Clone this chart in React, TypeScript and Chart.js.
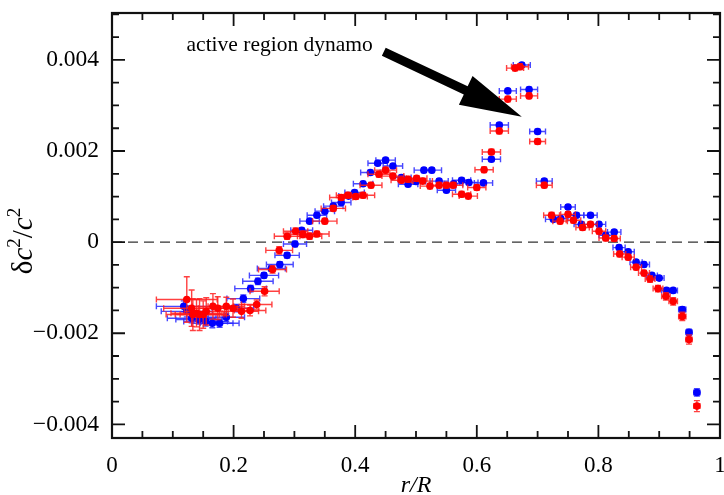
import React, { useEffect, useRef } from "react";
import { Chart, registerables } from "chart.js";

Chart.register(...registerables);

const SERIF = '"Liberation Serif", "DejaVu Serif", "Times New Roman", serif';

// ---- data: blue series ----
const blueR = [
  0.118, 0.123, 0.131, 0.143, 0.154, 0.165, 0.177, 0.188, 0.205, 0.216,
  0.228, 0.240, 0.250, 0.262, 0.276, 0.288, 0.301, 0.312, 0.325, 0.337,
  0.350, 0.364, 0.377, 0.389, 0.399, 0.413, 0.425, 0.437, 0.450, 0.462,
  0.476, 0.487, 0.500, 0.513, 0.526, 0.538, 0.550, 0.562, 0.575, 0.587,
  0.611, 0.624, 0.637, 0.651, 0.674, 0.686, 0.700, 0.711, 0.726, 0.738,
  0.750, 0.764, 0.772, 0.787, 0.801, 0.812, 0.826, 0.834, 0.849, 0.862,
  0.875, 0.888, 0.900, 0.912, 0.923, 0.938, 0.949, 0.962,
];
const blueDc = [
  -0.00141, -0.00152, -0.00167, -0.0017, -0.00174, -0.00178, -0.00178, -0.00165, -0.00145, -0.00124,
  -0.00102, -0.00086, -0.00073, -0.00058, -0.00049, -0.00029, -0.00004, 0.00026, 0.00046, 0.00059,
  0.00068, 0.00079, 0.00087, 0.00101, 0.00109, 0.00128, 0.00153, 0.00173, 0.0018, 0.00167,
  0.00142, 0.00127, 0.00133, 0.00158, 0.00158, 0.00134, 0.00114, 0.00128, 0.00136, 0.00131,
  0.0013, 0.00182, 0.00257, 0.00332, 0.00389, 0.00335, 0.00243, 0.00134, 0.0005, 0.00052,
  0.00077, 0.00059, 0.00039, 0.00059, 0.00039, 0.00015, 0.00022, -0.00012, -0.00021, -0.00044,
  -0.00049, -0.00073, -0.00079, -0.00106, -0.00106, -0.00148, -0.00198, -0.0033,
];
const blueRErr = [
  0.045, 0.042, 0.04, 0.038, 0.036, 0.034, 0.032, 0.03, 0.028, 0.027,
  0.026, 0.025, 0.024, 0.023, 0.022, 0.02, 0.019, 0.018, 0.016, 0.016,
  0.016, 0.016, 0.016, 0.016, 0.016, 0.016, 0.016, 0.016, 0.016, 0.016,
  0.016, 0.016, 0.016, 0.016, 0.016, 0.015, 0.015, 0.015, 0.015, 0.015,
  0.015, 0.015, 0.015, 0.014, 0.014, 0.014, 0.013, 0.013, 0.013, 0.012,
  0.012, 0.012, 0.012, 0.011, 0.011, 0.011, 0.011, 0.01, 0.01, 0.01,
  0.009, 0.009, 0.008, 0.008, 0.007, 0.006, 0.005, 0.005,
];
const blueDcErr = [
  0.00012, 0.00012, 0.0001, 0.0001, 0.0001, 0.0001, 0.00009, 0.00009, 0.00008, 0.00008,
  0.00007, 0.00007, 0.00006, 0.00006, 0.00006, 0.00006, 0.00006, 0.00005, 0.00005, 0.00005,
  0.00005, 0.00005, 0.00005, 0.00005, 0.00005, 0.00005, 0.00005, 0.00005, 0.00005, 0.00005,
  0.00005, 0.00005, 0.00005, 0.00005, 0.00005, 0.00005, 0.00005, 0.00005, 0.00005, 0.00005,
  0.00005, 0.00005, 0.00005, 0.00005, 0.00005, 0.00005, 0.00005, 0.00005, 0.00005, 0.00005,
  0.00005, 0.00005, 0.00005, 0.00005, 0.00005, 0.00005, 0.00005, 0.00005, 0.00005, 0.00005,
  0.00005, 0.00005, 0.00005, 0.00005, 0.00005, 0.00006, 0.00007, 0.00008,
];

// ---- data: red series ----
const redR = [
  0.123, 0.131, 0.133, 0.139, 0.144, 0.150, 0.155, 0.166, 0.174, 0.188,
  0.199, 0.213, 0.227, 0.238, 0.251, 0.264, 0.275, 0.288, 0.302, 0.314,
  0.325, 0.337, 0.350, 0.364, 0.377, 0.388, 0.401, 0.413, 0.426, 0.439,
  0.450, 0.462, 0.476, 0.487, 0.501, 0.511, 0.523, 0.538, 0.550, 0.561,
  0.575, 0.586, 0.600, 0.612, 0.624, 0.637, 0.651, 0.663, 0.671, 0.686,
  0.700, 0.711, 0.723, 0.737, 0.750, 0.759, 0.774, 0.787, 0.801, 0.812,
  0.826, 0.835, 0.849, 0.862, 0.875, 0.885, 0.898, 0.911, 0.923, 0.938,
  0.949, 0.962,
];
const redDc = [
  -0.00126, -0.00145, -0.00159, -0.00156, -0.00159, -0.00159, -0.00152, -0.00141, -0.00145, -0.00141,
  -0.00145, -0.00152, -0.0015, -0.00137, -0.00108, -0.0006, -0.00018, 0.00013, 0.00024, 0.00017,
  0.00013, 0.00018, 0.00046, 0.00074, 0.00098, 0.00103, 0.001, 0.00103, 0.00125, 0.00149,
  0.00158, 0.00145, 0.00136, 0.00138, 0.0014, 0.00134, 0.00123, 0.00125, 0.00125, 0.00125,
  0.00105, 0.00101, 0.0012, 0.00159, 0.00198, 0.00244, 0.00314, 0.00382, 0.00385, 0.00321,
  0.00221, 0.00125, 0.00059, 0.00046, 0.00061, 0.00048, 0.00032, 0.00039, 0.00024, 0.00009,
  0.00008, -0.00026, -0.00033, -0.00055, -0.00068, -0.00081, -0.00102, -0.00119, -0.0013, -0.00163,
  -0.00214, -0.0036,
];
const redRErr = [
  0.05, 0.046, 0.044, 0.042, 0.04, 0.038, 0.036, 0.034, 0.032, 0.03,
  0.029, 0.028, 0.026, 0.025, 0.024, 0.023, 0.022, 0.021, 0.02, 0.02,
  0.02, 0.02, 0.02, 0.02, 0.019, 0.019, 0.019, 0.019, 0.018, 0.018,
  0.018, 0.018, 0.017, 0.017, 0.017, 0.016, 0.016, 0.016, 0.016, 0.016,
  0.015, 0.015, 0.015, 0.015, 0.015, 0.015, 0.014, 0.014, 0.014, 0.014,
  0.013, 0.013, 0.013, 0.012, 0.012, 0.012, 0.011, 0.011, 0.011, 0.011,
  0.01, 0.01, 0.01, 0.009, 0.009, 0.008, 0.008, 0.007, 0.007, 0.006,
  0.005, 0.005,
];
const redDcErr = [
  0.0005, 0.0004, 0.00035, 0.0003, 0.00035, 0.0003, 0.0003, 0.00028, 0.00025, 0.0002,
  0.0002, 0.00015, 0.00012, 0.0001, 0.0001, 0.00008, 0.00008, 0.00007, 0.00007, 0.00007,
  0.00007, 0.00006, 0.00006, 0.00006, 0.00006, 0.00006, 0.00006, 0.00006, 0.00006, 0.00006,
  0.00006, 0.00006, 0.00006, 0.00006, 0.00006, 0.00006, 0.00006, 0.00006, 0.00006, 0.00006,
  0.00006, 0.00006, 0.00006, 0.00006, 0.00006, 0.00006, 0.00006, 0.00006, 0.00006, 0.00006,
  0.00006, 0.00006, 0.00006, 0.00006, 0.00006, 0.00006, 0.00006, 0.00006, 0.00006, 0.00006,
  0.00006, 0.00006, 0.00006, 0.00006, 0.00006, 0.00007, 0.00007, 0.00008, 0.00008, 0.00009,
  0.0001, 0.00012,
];

// ---- axes ----
const xTickValues = [0, 0.2, 0.4, 0.6, 0.8, 1];
const yTickValues = [-0.004, -0.002, 0, 0.002, 0.004];
const xMinorStep = 0.05;
const yMinorStep = 0.0005;
const xMin = 0, xMax = 1;
const yMin = -0.0043, yMax = 0.00503;

// ---- annotation (data coordinates) ----
const annotationText = "active region dynamo";
const annotationTextAt = { x: 0.429, y: 0.00431 };
const arrowTail = { x: 0.447, y: 0.00418 };
const arrowTip = { x: 0.674, y: 0.00275 };

const errs: Record<string, { rx: number[]; ry: number[] }> = {
  blue: { rx: blueRErr, ry: blueDcErr },
  red: { rx: redRErr, ry: redDcErr },
};

export default function App() {
  const ref = useRef<HTMLCanvasElement>(null);

  useEffect(() => {
    document.body.style.margin = "0";
    const canvas = ref.current!;

    const errorBars = {
      id: "errorBars",
      beforeDatasetsDraw(chart: any) {
        const { ctx, chartArea, scales } = chart;
        const y0 = scales.y.getPixelForValue(0);
        ctx.save();
        ctx.strokeStyle = "#333";
        ctx.lineWidth = 1.2;
        ctx.setLineDash([10, 6]);
        ctx.beginPath();
        ctx.moveTo(chartArea.left, y0);
        ctx.lineTo(chartArea.right, y0);
        ctx.stroke();
        ctx.restore();
      },
      beforeDatasetDraw(chart: any, args: any) {
        const ds = chart.data.datasets[args.index];
        const e = errs[ds.label];
        if (!e) return;
        const { ctx, scales } = chart;
        const xs = scales.x, ys = scales.y;
        const cap = 3;
        ctx.save();
        ctx.strokeStyle = ds.errColor;
        ctx.lineWidth = 1.4;
        ds.data.forEach((p: any, i: number) => {
          const px = xs.getPixelForValue(p.x);
          const py = ys.getPixelForValue(p.y);
          const xa = xs.getPixelForValue(p.x - e.rx[i]);
          const xb = xs.getPixelForValue(p.x + e.rx[i]);
          const ya = ys.getPixelForValue(p.y - e.ry[i]);
          const yb = ys.getPixelForValue(p.y + e.ry[i]);
          ctx.beginPath();
          ctx.moveTo(xa, py); ctx.lineTo(xb, py);
          ctx.moveTo(xa, py - cap); ctx.lineTo(xa, py + cap);
          ctx.moveTo(xb, py - cap); ctx.lineTo(xb, py + cap);
          ctx.moveTo(px, ya); ctx.lineTo(px, yb);
          ctx.moveTo(px - cap, ya); ctx.lineTo(px + cap, ya);
          ctx.moveTo(px - cap, yb); ctx.lineTo(px + cap, yb);
          ctx.stroke();
        });
        ctx.restore();
      },
      afterDraw(chart: any) {
        const { ctx, chartArea: a, scales } = chart;
        const xs = scales.x, ys = scales.y;
        ctx.save();
        // frame
        ctx.strokeStyle = "#111";
        ctx.lineWidth = 2.2;
        ctx.strokeRect(a.left, a.top, a.right - a.left, a.bottom - a.top);
        // ticks
        ctx.lineWidth = 1.8;
        const major = 13, minor = 7;
        ctx.beginPath();
        const nx = Math.round((xMax - xMin) / xMinorStep);
        for (let i = 0; i <= nx; i++) {
          const v = xMin + i * xMinorStep;
          const isMajor = xTickValues.some((t) => Math.abs(t - v) < 1e-9);
          const L = isMajor ? major : minor;
          const px = xs.getPixelForValue(v);
          ctx.moveTo(px, a.bottom); ctx.lineTo(px, a.bottom - L);
          ctx.moveTo(px, a.top); ctx.lineTo(px, a.top + L);
        }
        const startY = Math.ceil(yMin / yMinorStep);
        const endY = Math.floor(yMax / yMinorStep);
        for (let i = startY; i <= endY; i++) {
          const v = i * yMinorStep;
          const isMajor = yTickValues.some((t) => Math.abs(t - v) < 1e-9);
          const L = isMajor ? major : minor;
          const py = ys.getPixelForValue(v);
          ctx.moveTo(a.left, py); ctx.lineTo(a.left + L, py);
          ctx.moveTo(a.right, py); ctx.lineTo(a.right - L, py);
        }
        ctx.stroke();

        // annotation text
        ctx.fillStyle = "#000";
        ctx.font = `21.5px ${SERIF}`;
        ctx.textAlign = "right";
        ctx.textBaseline = "middle";
        ctx.fillText(
          annotationText,
          xs.getPixelForValue(annotationTextAt.x),
          ys.getPixelForValue(annotationTextAt.y)
        );
        // arrow
        const tx = xs.getPixelForValue(arrowTail.x), ty = ys.getPixelForValue(arrowTail.y);
        const hx = xs.getPixelForValue(arrowTip.x), hy = ys.getPixelForValue(arrowTip.y);
        const dx = hx - tx, dy = hy - ty;
        const len = Math.hypot(dx, dy);
        const ux = dx / len, uy = dy / len;
        const nxv = -uy, nyv = ux;
        const headLen = 62, headHalf = 16, shaftHalf = 4.5;
        const bx = hx - ux * headLen, by = hy - uy * headLen;
        ctx.beginPath();
        ctx.moveTo(tx + nxv * shaftHalf, ty + nyv * shaftHalf);
        ctx.lineTo(bx + nxv * shaftHalf, by + nyv * shaftHalf);
        ctx.lineTo(bx + nxv * headHalf, by + nyv * headHalf);
        ctx.lineTo(hx, hy);
        ctx.lineTo(bx - nxv * headHalf, by - nyv * headHalf);
        ctx.lineTo(bx - nxv * shaftHalf, by - nyv * shaftHalf);
        ctx.lineTo(tx - nxv * shaftHalf, ty - nyv * shaftHalf);
        ctx.closePath();
        ctx.fill();

        // x title: r/R
        ctx.font = `italic 24px ${SERIF}`;
        ctx.textAlign = "center";
        ctx.textBaseline = "alphabetic";
        ctx.fillText("r/R", (a.left + a.right) / 2, 492);

        // y title: δc²/c²
        ctx.translate(23, 241);
        ctx.rotate(-Math.PI / 2);
        const parts: [string, string, number][] = [
          ["δ", `29px ${SERIF}`, 0],
          ["c", `italic 29px ${SERIF}`, 0],
          ["2", `19px ${SERIF}`, -12],
          ["/", `29px ${SERIF}`, 0],
          ["c", `italic 29px ${SERIF}`, 0],
          ["2", `19px ${SERIF}`, -12],
        ];
        let total = 0;
        for (const [t, f] of parts) { ctx.font = f; total += ctx.measureText(t).width; }
        let cx = -total / 2;
        ctx.textAlign = "left";
        ctx.textBaseline = "alphabetic";
        for (const [t, f, dyv] of parts) {
          ctx.font = f;
          ctx.fillText(t, cx, 9 + dyv);
          cx += ctx.measureText(t).width;
        }
        ctx.restore();
      },
    };

    const chart = new Chart(canvas, {
      type: "scatter",
      data: {
        datasets: [
          {
            label: "red",
            data: redR.map((r, i) => ({ x: r, y: redDc[i] })),
            backgroundColor: "#ff0000",
            borderColor: "#ff0000",
            pointRadius: 3.8,
            pointBorderWidth: 0,
            order: 0,
            errColor: "rgba(255,30,30,0.85)",
          } as any,
          {
            label: "blue",
            data: blueR.map((r, i) => ({ x: r, y: blueDc[i] })),
            backgroundColor: "#0000ff",
            borderColor: "#0000ff",
            pointRadius: 3.8,
            pointBorderWidth: 0,
            order: 1,
            errColor: "rgba(40,40,255,0.85)",
          } as any,
        ],
      },
      options: {
        animation: false,
        responsive: false,
        maintainAspectRatio: false,
        layout: { autoPadding: false, padding: { top: 13, right: 4, left: 0, bottom: 0 } },
        plugins: {
          legend: { display: false },
          tooltip: { enabled: false },
        },
        scales: {
          x: {
            type: "linear",
            min: xMin,
            max: xMax,
            grid: { display: false, drawTicks: false },
            border: { display: false },
            afterBuildTicks: (s: any) => { s.ticks = xTickValues.map((v) => ({ value: v })); },
            afterFit: (s: any) => {
              s.height = 57;
              s.paddingLeft = 0; s.paddingRight = 0; s.paddingTop = 0; s.paddingBottom = 0;
            },
            ticks: {
              color: "#000",
              font: { family: SERIF, size: 23 },
              padding: 14,
              maxRotation: 0,
              autoSkip: false,
              callback: (v: any) => (v === 0 ? "0" : v === 1 ? "1" : Number(v).toFixed(1)),
            },
          },
          y: {
            type: "linear",
            min: yMin,
            max: yMax,
            grid: { display: false, drawTicks: false },
            border: { display: false },
            afterBuildTicks: (s: any) => { s.ticks = yTickValues.map((v) => ({ value: v })); },
            afterFit: (s: any) => {
              s.width = 112;
              s.paddingLeft = 0; s.paddingRight = 0; s.paddingTop = 0; s.paddingBottom = 0;
            },
            ticks: {
              color: "#000",
              font: { family: SERIF, size: 23.5 },
              padding: 13,
              autoSkip: false,
              callback: (v: any) => {
                const n = Number(v);
                if (Math.abs(n) < 1e-12) return "0";
                return (n < 0 ? "\u2212" : "") + Math.abs(n).toFixed(3);
              },
            },
          },
        },
      } as any,
      plugins: [errorBars],
    });

    return () => chart.destroy();
  }, []);

  return (
    <div style={{ position: "absolute", left: 0, top: 0, width: 724, height: 495, background: "#fff" }}>
      <canvas ref={ref} width={724} height={495} style={{ width: 724, height: 495 }} />
    </div>
  );
}
